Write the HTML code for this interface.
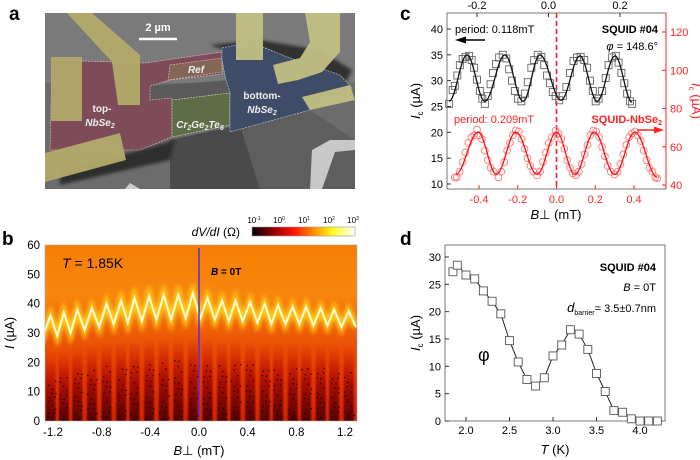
<!DOCTYPE html>
<html><head><meta charset="utf-8"><style>
html,body{margin:0;padding:0;background:#fff;}
svg{display:block;font-family:"Liberation Sans",Arial,sans-serif;}
</style></head><body>
<svg id="fig" width="700" height="460" viewBox="0 0 700 460" xmlns="http://www.w3.org/2000/svg">
<defs>
<linearGradient id="hmbg" x1="0" y1="0" x2="0" y2="1">
<stop offset="0" stop-color="#f77d05"/><stop offset="0.28" stop-color="#f7870e"/><stop offset="0.45" stop-color="#f06408"/><stop offset="0.7" stop-color="#e43e02"/><stop offset="1" stop-color="#d52200"/></linearGradient>
<linearGradient id="stripe" x1="0" y1="1" x2="0" y2="0">
<stop offset="0" stop-color="#400000" stop-opacity="0.95"/><stop offset="0.5" stop-color="#900000" stop-opacity="0.75"/><stop offset="1" stop-color="#c81000" stop-opacity="0"/></linearGradient>
<linearGradient id="cbar" x1="0" y1="0" x2="1" y2="0">
<stop offset="0" stop-color="#000"/><stop offset="0.2" stop-color="#8a0000"/><stop offset="0.4" stop-color="#ff1000"/><stop offset="0.6" stop-color="#ff8c00"/><stop offset="0.78" stop-color="#ffff20"/><stop offset="1" stop-color="#fff"/></linearGradient>
<filter id="glow" x="-5%" y="-20%" width="110%" height="140%"><feGaussianBlur stdDeviation="2"/></filter>
<filter id="blur1"><feGaussianBlur stdDeviation="1.5"/></filter>
<filter id="blur2" x="-10%" y="-10%" width="120%" height="120%"><feGaussianBlur stdDeviation="0.9 0.6"/></filter>
<clipPath id="clipb"><rect x="45" y="245" width="312" height="176"/></clipPath>
<clipPath id="clipa"><rect x="45" y="13" width="310" height="176"/></clipPath>
</defs>

<text x="9" y="20" font-size="19" font-weight="bold">a</text>
<text x="2" y="245" font-size="19" font-weight="bold">b</text>
<text x="400" y="20" font-size="19" font-weight="bold">c</text>
<text x="400" y="245" font-size="19" font-weight="bold">d</text>

<g clip-path="url(#clipa)">
<rect x="45" y="13" width="310" height="176" fill="#6c6c6c"/>
<rect x="45" y="13" width="310" height="70" fill="#7a7a7a"/>
<polygon points="170,140 240,125 260,189 170,189" fill="#4a4a4a"/>
<polygon points="240,125 310,110 355,140 355,189 260,189" fill="#5e5e5e"/>
<polygon points="210,45 260,40 320,50 352,70 340,95 300,75" fill="#333" filter="url(#blur1)"/>
<polygon points="60,170 140,150 175,140 170,160 60,185" fill="#2e2e2e" filter="url(#blur1)"/>
<polygon points="150,86 230,80 230,100 150,100" fill="#5a5a5a"/>
<polygon points="52,60 145,63 222,52 222,74 170,80 150,86 150,100 172,98 172,137 140,150 50,150" fill="#7e4c58" stroke="#e0c0c0" stroke-dasharray="2,1" stroke-width="0.6"/>
<polygon points="170,65 222,58 222,72 168,80" fill="#846656" stroke="#e0c0c0" stroke-dasharray="2,1" stroke-width="0.6"/>
<polygon points="172,100 230,93 230,125 172,137" fill="#5f6c48" stroke="#d0e0c0" stroke-dasharray="2,1" stroke-width="0.6"/>
<polygon points="222,48 250,42 290,58 340,75 352,88 310,110 230,132 230,92 226,80 222,60" fill="#3e4c68" stroke="#c0d0e0" stroke-dasharray="2,1" stroke-width="0.6"/>
<polygon points="67,13 92,13 140,55 140,105 118,105 112,62" fill="#b3ab6a" opacity="0.95"/>
<rect x="51" y="57" width="31" height="64" fill="#b3a86c" opacity="0.95"/>
<polygon points="45,153 120,133 126,160 45,182" fill="#b3ab6a" opacity="0.95"/>
<rect x="236" y="13" width="27" height="47" fill="#c2bf84" opacity="0.95"/>
<polygon points="300,13 340,13 340,52 322,72 298,80 278,84 273,65 300,58 310,42 305,13" fill="#c2bf84" opacity="0.95"/>
<polygon points="302,97 350,85 355,100 310,110" fill="#c2bf84" opacity="0.95"/>
<polygon points="312,150 330,140 355,140 355,150 335,152 322,189 310,189" fill="#c8c8c8"/>
<polygon points="125,189 130,183 140,189" fill="#ccc"/>
<line x1="139" y1="39" x2="177" y2="39" stroke="#fff" stroke-width="2.5"/>
</g>
<text x="158" y="31" font-size="11" font-weight="bold" fill="#fff" text-anchor="middle">2 µm</text>
<g font-size="10" font-weight="bold" fill="#eee" font-style="italic" text-anchor="middle">
<text x="102" y="112" font-style="normal">top-</text>
<text x="100" y="126">NbSe<tspan font-size="7" dy="2">2</tspan></text>
<text x="196" y="73">Ref</text>
<text x="200" y="128">Cr<tspan font-size="7" dy="2">2</tspan><tspan dy="-2">Ge</tspan><tspan font-size="7" dy="2">2</tspan><tspan dy="-2">Te</tspan><tspan font-size="7" dy="2">6</tspan></text>
<text x="262" y="99" font-style="normal">bottom-</text>
<text x="262" y="113">NbSe<tspan font-size="7" dy="2">2</tspan></text>
</g>

<text x="240" y="236" font-size="12" text-anchor="end"><tspan font-style="italic">dV/dI</tspan> (Ω)</text>
<rect x="252" y="227" width="103" height="9" fill="url(#cbar)" stroke="#999" stroke-width="0.6"/>
<g font-size="8" text-anchor="middle">
<text x="254" y="223">10<tspan font-size="5" dy="-3">-1</tspan></text>
<text x="279" y="223">10<tspan font-size="5" dy="-3">0</tspan></text>
<text x="304" y="223">10<tspan font-size="5" dy="-3">1</tspan></text>
<text x="329" y="223">10<tspan font-size="5" dy="-3">2</tspan></text>
<text x="353" y="223">10<tspan font-size="5" dy="-3">3</tspan></text>
</g>

<g id="pb"></g>
<g id="pc"></g>
<g id="pd"></g>
</svg>
<script>
const bPeakB = [-1.22,-1.11,-1.00,-0.88,-0.76,-0.64,-0.53,-0.41,-0.29,-0.17,-0.05,0.07,0.19,0.30,0.42,0.54,0.65,0.77,0.88,1.00,1.11,1.23];
const bPeakI = [36,37,38,38.5,40,41,42,42.5,43,43,43.5,42,41,41,40.5,40,39.5,39,39,38.5,38,37.5];
const bTroughI = [29,30,31,32,33,33.5,34,34.5,34.5,35,35,34.5,34,34,33.5,33,33,33,32.5,32.5,32,32];
const bXTicks = [-1.2,-0.8,-0.4,0.0,0.4,0.8,1.2];
const bYTicks = [0,10,20,30,40,50,60];
const cBlackPts = [[-0.278,25.5],[-0.268,28.2],[-0.262,29.0],[-0.255,31.0],[-0.248,33.0],[-0.240,34.2],[-0.232,34.6],[-0.222,34.8],[-0.215,34.0],[-0.208,32.5],[-0.200,30.2],[-0.192,28.0],[-0.185,26.5],[-0.178,25.5],[-0.170,27.0],[-0.162,29.3],[-0.155,31.5],[-0.147,33.2],[-0.138,34.5],[-0.128,35.0],[-0.118,34.3],[-0.110,32.2],[-0.102,30.0],[-0.094,28.0],[-0.085,26.5],[-0.076,26.0],[-0.066,27.5],[-0.058,29.7],[-0.048,32.5],[-0.040,34.0],[-0.030,35.0],[-0.020,34.6],[-0.012,33.0],[-0.004,31.0],[0.004,29.5],[0.012,27.8],[0.020,27.0],[0.030,26.2],[0.040,27.0],[0.050,28.8],[0.060,31.5],[0.070,33.8],[0.080,34.5],[0.090,34.6],[0.100,34.0],[0.108,32.5],[0.116,30.0],[0.124,28.0],[0.132,26.0],[0.140,26.5],[0.150,28.0],[0.160,30.5],[0.168,33.0],[0.178,34.5],[0.188,34.8],[0.196,33.5],[0.204,31.5],[0.212,29.5],[0.220,27.5],[0.228,26.0],[0.234,25.5]];
const cBlackFit = [[-0.278,26],[-0.228,35],[-0.178,26],[-0.122,35],[-0.071,26],[-0.024,35],[0.035,26.2],[0.088,34.8],[0.136,26],[0.186,34.8],[0.234,25.8]];
const cRedPts = [[-0.525,44],[-0.515,44],[-0.50,47],[-0.485,52],[-0.47,57],[-0.455,62],[-0.44,65],[-0.425,66],[-0.41,69],[-0.40,66],[-0.385,64],[-0.37,58],[-0.355,53],[-0.34,49],[-0.325,47],[-0.30,44],[-0.285,47],[-0.27,52],[-0.255,58],[-0.24,62],[-0.225,66],[-0.21,68.5],[-0.195,68],[-0.18,64],[-0.165,59],[-0.15,54],[-0.135,50],[-0.12,47],[-0.10,45],[-0.085,47],[-0.07,52],[-0.055,57],[-0.04,62],[-0.025,65],[-0.005,68.5],[0.01,67],[0.025,64],[0.04,59],[0.055,53],[0.07,49],[0.085,46],[0.10,45],[0.115,47],[0.13,51],[0.145,56],[0.16,61],[0.175,66],[0.19,68.5],[0.205,68],[0.22,65],[0.235,60],[0.25,55],[0.265,50],[0.28,47],[0.30,45.5],[0.315,47],[0.33,51],[0.345,56],[0.36,61],[0.375,65],[0.39,67],[0.405,68],[0.42,66],[0.435,63],[0.45,58],[0.465,53],[0.48,49],[0.495,47],[0.51,44],[0.52,43.5]];
const cRedFit = [[-0.52,45.5],[-0.405,67.7],[-0.31,45.5],[-0.21,67.7],[-0.10,45.5],[0.0,67.7],[0.095,45.5],[0.195,67.7],[0.30,45.5],[0.405,67.7],[0.52,44]];
const cBottomTicks = [-0.4,-0.2,0.0,0.2,0.4];
const cTopTicks = [-0.2,0.0,0.2];
const cLeftTicks = [10,15,20,25,30,35,40];
const cRightTicks = [40,60,80,100,120];
const dT = [1.85,1.9,2.0,2.1,2.2,2.3,2.4,2.5,2.6,2.7,2.8,2.9,3.0,3.1,3.2,3.3,3.4,3.5,3.6,3.7,3.8,3.9,4.0,4.1,4.2];
const dIc = [27.3,28.5,26.7,26.0,23.8,21.9,19.6,14.7,10.8,7.6,6.4,7.9,11.9,13.9,16.7,15.9,13.1,8.7,5.4,1.9,1.6,0.4,0,0,0];
const dXTicks = [2.0,2.5,3.0,3.5,4.0];
const dYTicks = [0,5,10,15,20,25,30];

const NS = 'http://www.w3.org/2000/svg';
function mk(parent, tag, attrs, text){
  const e = document.createElementNS(NS, tag);
  for (const k in attrs) e.setAttribute(k, attrs[k]);
  if (text !== undefined) e.textContent = text;
  parent.appendChild(e);
  return e;
}
function cosPath(pts, fx, fy){
  let d = '';
  for (let i=0;i<pts.length-1;i++){
    const [x0,y0]=pts[i],[x1,y1]=pts[i+1];
    for (let k=0;k<=12;k++){
      const t=k/12, x=x0+(x1-x0)*t, y=y0+(y1-y0)*(1-Math.cos(Math.PI*t))/2;
      d += (d?'L':'M')+fx(x).toFixed(2)+','+fy(y).toFixed(2);
    }
  }
  return d;
}

(function(){
  const g = document.getElementById('pb');
  const xb = v => 199 + v*121.7;
  const yb = v => 421 - v*176/60;
  const clip = mk(g,'g',{'clip-path':'url(#clipb)'});
  const bg = mk(clip,'rect',{x:45,y:245,width:312,height:176,fill:'url(#hmbg)'});
  
  
  const sg = mk(clip,'g',{filter:'url(#blur2)'});
  bPeakB.forEach((b,i)=>{
    const top = yb(bTroughI[i]-6);
    const r = mk(sg,'rect',{x:xb(b)-5,y:top,width:10,height:yb(0)-top+4,fill:'url(#stripe)'});
    
    
  });
  bPeakB.forEach((b,i)=>{
    for (let k=0;k<16;k++){
      const fr = ((i*37+k*53)%97)/97, fx = ((i*71+k*29)%89)/89;
      const sp = mk(clip,'rect',{x:xb(b)-5+fx*10,y:yb(fr*(bTroughI[i]-14)),width:1.3,height:1.3,fill:'#000',opacity:0.8});
      
      
    }
  });
  const pts = [];
  pts.push([-1.3, bTroughI[0]-2]);
  bPeakB.forEach((b,i)=>{
    pts.push([b, bPeakI[i]]);
    const nb = i<bPeakB.length-1 ? (b+bPeakB[i+1])/2 : b+0.06;
    pts.push([nb, bTroughI[i]]);
  });
  const pstr = pts.map(p=>xb(p[0]).toFixed(1)+','+yb(p[1]).toFixed(1)).join(' ');
  const gl = mk(clip,'polyline',{points:pstr,fill:'none',stroke:'#ffd21a',"stroke-width":7,filter:'url(#glow)',opacity:0.9});
  
  
  const ln = mk(clip,'polyline',{points:pstr,fill:'none',stroke:'#fffbd0',"stroke-width":2});
  
  
  const zl = mk(g,'line',{x1:xb(0),y1:yb(59),x2:xb(0),y2:yb(1),stroke:'#5a2bd8',"stroke-width":1.5});
  
  
  mk(g,'rect',{x:45,y:245,width:312,height:176,fill:'none',stroke:'#aaa',"stroke-width":0.6});
  bXTicks.forEach(v=>{
    const t = mk(g,'text',{x:xb(v),y:436,"font-size":11.5,"text-anchor":"middle"}, v.toFixed(1));
    
    
  });
  bYTicks.forEach(v=>{
    const t = mk(g,'text',{x:40,y:yb(v)+4,"font-size":11.5,"text-anchor":"end"}, String(v));
    
    
  });
  const xt = mk(g,'text',{x:199,y:455,"font-size":13,"text-anchor":"middle"});
  xt.innerHTML = '<tspan font-style="italic">B</tspan>⊥ (mT)';
  
  
  const yt = mk(g,'text',{x:14,y:333,"font-size":13,"text-anchor":"middle",transform:'rotate(-90 14 333)'});
  yt.innerHTML = '<tspan font-style="italic">I</tspan> (µA)';
  
  
  const tl = mk(g,'text',{x:62,y:268,"font-size":14});
  tl.innerHTML = '<tspan font-style="italic">T</tspan> = 1.85K';
  
  
  const bl = mk(g,'text',{x:211,y:275,"font-size":10,"font-weight":"bold"});
  bl.innerHTML = '<tspan font-style="italic">B</tspan> = 0T';
  
  
})();

(function(){
  const g = document.getElementById('pc');
  const xc = v => 556.5 + v*193.7;
  const xt = v => 548.5 + v*357.5;
  const yl = v => 184 - (v-10)*5.167;
  const yr = v => 185 - (v-40)*1.9125;
  const fr = mk(g,'rect',{x:447,y:13,width:219,height:176,fill:'none',stroke:'#555',"stroke-width":0.8});
  
  
  mk(g,'line',{x1:666,y1:13,x2:666,y2:189,stroke:'#f22',"stroke-width":1});
  cBottomTicks.forEach(v=>{
    mk(g,'line',{x1:xc(v),y1:189,x2:xc(v),y2:185,stroke:'#f22'});
    const t = mk(g,'text',{x:xc(v),y:203,"font-size":11,"text-anchor":"middle",fill:'#f22'}, v.toFixed(1));
    
    
  });
  cTopTicks.forEach(v=>{
    mk(g,'line',{x1:xt(v),y1:13,x2:xt(v),y2:17,stroke:'#333'});
    const t = mk(g,'text',{x:xt(v),y:9,"font-size":11,"text-anchor":"middle"}, v.toFixed(1));
    
    
  });
  cLeftTicks.forEach(v=>{
    mk(g,'line',{x1:447,y1:yl(v),x2:451,y2:yl(v),stroke:'#333'});
    const t = mk(g,'text',{x:443,y:yl(v)+4,"font-size":11,"text-anchor":"end"}, String(v));
    
    
  });
  cRightTicks.forEach(v=>{
    mk(g,'line',{x1:666,y1:yr(v),x2:662,y2:yr(v),stroke:'#f22'});
    const t = mk(g,'text',{x:670,y:yr(v)+4,"font-size":11,fill:'#f22'}, String(v));
    
    
  });
  const dl = mk(g,'line',{x1:xc(0),y1:13,x2:xc(0),y2:189,stroke:'#f22',"stroke-width":1.6,"stroke-dasharray":'5,3'});
  
  
  cBlackPts.forEach(p=>{
    const r = mk(g,'rect',{x:xt(p[0])-3.5,y:yl(p[1])-3.5,width:7,height:7,fill:'none',stroke:'#666',"stroke-width":0.9});
    
    
  });
  const bf = mk(g,'path',{d:cosPath(cBlackFit,xt,yl),fill:'none',stroke:'#111',"stroke-width":1.3});
  
  
  cRedPts.forEach(p=>{
    const c = mk(g,'circle',{cx:xc(p[0]),cy:yr(p[1]),r:3.4,fill:'none',stroke:'#f77',"stroke-width":0.9});
    
    
  });
  const rf = mk(g,'path',{d:cosPath(cRedFit,xc,yr),fill:'none',stroke:'#f11',"stroke-width":1.3});
  
  
  const lab = (x,y,html,attrs,name)=>{
    const t = mk(g,'text',Object.assign({x:x,y:y,"font-size":11},attrs));
    t.innerHTML = html;
    
    
  };
  lab(455,33,'period: 0.118mT',{},'black-period-label');
  mk(g,'line',{x1:465,y1:40,x2:485,y2:40,stroke:'#000',"stroke-width":1.5});
  mk(g,'polygon',{points:'455,40 466,36.5 466,43.5',fill:'#000'});
  lab(658,33,'SQUID #04',{"font-weight":"bold","text-anchor":"end"},'squid-label');
  lab(658,50,'<tspan font-style="italic">φ</tspan> = 148.6°',{"text-anchor":"end"},'phase-label');
  lab(454,123,'period: 0.209mT',{fill:'#f22'},'red-period-label');
  lab(662,123,'SQUID-NbSe<tspan font-size="7" dy="2">2</tspan>',{fill:'#f22',"font-weight":"bold","text-anchor":"end"},'squid-nbse2-label');
  mk(g,'line',{x1:637,y1:130,x2:655,y2:130,stroke:'#f22',"stroke-width":1.5});
  mk(g,'polygon',{points:'664,130 654,126.5 654,133.5',fill:'#f22'});
  lab(556,219,'<tspan font-style="italic">B</tspan>⊥ (mT)',{"font-size":13,"text-anchor":"middle"},'x-axis-title');
  lab(0,0,'<tspan font-style="italic">I</tspan><tspan font-size="8" dy="3">c</tspan><tspan dy="-3"> (µA)</tspan>',{"font-size":13,"text-anchor":"middle",transform:'translate(420 101) rotate(-90)'},'left-axis-title');
  lab(0,0,'<tspan font-style="italic">I</tspan><tspan font-size="8" dy="3">c</tspan><tspan dy="-3"> (µA)</tspan>',{"font-size":13,"text-anchor":"middle",fill:'#f22',transform:'translate(692 101) rotate(90)'},'right-axis-title');
})();

(function(){
  const g = document.getElementById('pd');
  const xd = v => 466 + (v-2)*87;
  const yd = v => 421 - v*5.467;
  const fr = mk(g,'rect',{x:445,y:245,width:220,height:176,fill:'none',stroke:'#555',"stroke-width":0.8});
  
  
  dXTicks.forEach(v=>{
    mk(g,'line',{x1:xd(v),y1:421,x2:xd(v),y2:417,stroke:'#333'});
    const t = mk(g,'text',{x:xd(v),y:434,"font-size":11,"text-anchor":"middle"}, v.toFixed(1));
    
    
  });
  dYTicks.forEach(v=>{
    mk(g,'line',{x1:445,y1:yd(v),x2:449,y2:yd(v),stroke:'#333'});
    const t = mk(g,'text',{x:441,y:yd(v)+4,"font-size":11,"text-anchor":"end"}, String(v));
    
    
  });
  const pts = dT.map((t,i)=>xd(t).toFixed(1)+','+yd(dIc[i]).toFixed(1)).join(' ');
  const ln = mk(g,'polyline',{points:pts,fill:'none',stroke:'#222',"stroke-width":1});
  
  
  dT.forEach((t,i)=>{
    const r = mk(g,'rect',{x:xd(t)-4,y:yd(dIc[i])-4,width:8,height:8,fill:'#fff',stroke:'#555',"stroke-width":0.9});
    
    
  });
  const lab = (x,y,html,attrs,name)=>{
    const t = mk(g,'text',Object.assign({x:x,y:y,"font-size":11},attrs));
    t.innerHTML = html;
    
    
  };
  lab(656,271,'SQUID #04',{"font-weight":"bold","text-anchor":"end"},'squid-label');
  lab(656,291,'<tspan font-style="italic">B</tspan> = 0T',{"text-anchor":"end"},'field-label');
  lab(656,312,'<tspan font-style="italic" font-size="13">d</tspan><tspan font-size="7" dy="3">barrier</tspan><tspan dy="-3">= 3.5±0.7nm</tspan>',{"text-anchor":"end"},'barrier-label');
  lab(478,361,'φ',{"font-size":18},'phi-label');
  lab(555,454,'<tspan font-style="italic">T</tspan> (K)',{"font-size":13,"text-anchor":"middle"},'x-axis-title');
  lab(0,0,'<tspan font-style="italic">I</tspan><tspan font-size="8" dy="3">c</tspan><tspan dy="-3"> (µA)</tspan>',{"font-size":13,"text-anchor":"middle",transform:'translate(420 333) rotate(-90)'},'y-axis-title');
})();
</script>
</body></html>
